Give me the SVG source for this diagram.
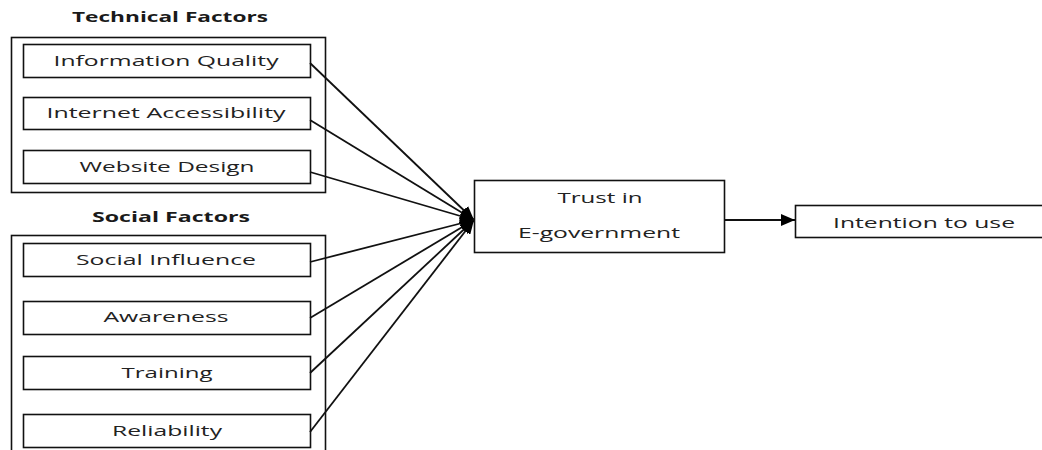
<svg xmlns="http://www.w3.org/2000/svg" width="1042" height="450" viewBox="0 0 1042 450">
<defs>
<style>
.grp{fill:none;stroke:#111;stroke-width:1.6}
.box{fill:#fff;stroke:#111;stroke-width:1.6}
.t{font-family:"Open Sans","Liberation Sans",sans-serif;font-size:15px;fill:#222;text-anchor:middle}
.h{font-family:"Open Sans","Liberation Sans",sans-serif;font-size:14px;font-weight:bold;fill:#1a1a1a;text-anchor:middle}
.c{fill:none;stroke:#111;stroke-width:1.8}
</style>
<marker id="ah" viewBox="0 0 14 12" refX="14" refY="6" markerWidth="14" markerHeight="12" markerUnits="userSpaceOnUse" orient="auto">
<path d="M0,0 L14,6 L0,12 Z" fill="#000"/>
</marker>
</defs>
<rect width="1042" height="450" fill="#fff"/>
<g id="technical-factors">
<text class="h" x="170" y="22" textLength="196" lengthAdjust="spacingAndGlyphs">Technical Factors</text>
<rect class="grp" x="11.5" y="37.5" width="314" height="155"/>
</g>
<g id="information-quality">
<rect class="box" x="23.5" y="44.5" width="287" height="33"/>
<text class="t" x="166" y="66" textLength="225" lengthAdjust="spacingAndGlyphs">Information Quality</text>
</g>
<g id="internet-accessibility">
<rect class="box" x="23.5" y="97.5" width="287" height="32"/>
<text class="t" x="166" y="118" textLength="239" lengthAdjust="spacingAndGlyphs">Internet Accessibility</text>
</g>
<g id="website-design">
<rect class="box" x="23.5" y="150.5" width="287" height="33"/>
<text class="t" x="167" y="172" textLength="175" lengthAdjust="spacingAndGlyphs">Website Design</text>
</g>
<g id="social-factors">
<text class="h" x="171" y="222" textLength="158" lengthAdjust="spacingAndGlyphs">Social Factors</text>
<rect class="grp" x="11.5" y="235.5" width="314" height="230"/>
</g>
<g id="social-influence">
<rect class="box" x="23.5" y="243.5" width="287" height="33"/>
<text class="t" x="166" y="265" textLength="180" lengthAdjust="spacingAndGlyphs">Social Influence</text>
</g>
<g id="awareness">
<rect class="box" x="23.5" y="301.5" width="287" height="33"/>
<text class="t" x="166" y="322" textLength="125" lengthAdjust="spacingAndGlyphs">Awareness</text>
</g>
<g id="training">
<rect class="box" x="23.5" y="356.5" width="287" height="33"/>
<text class="t" x="167" y="378" textLength="91" lengthAdjust="spacingAndGlyphs">Training</text>
</g>
<g id="reliability">
<rect class="box" x="23.5" y="414.5" width="287" height="33"/>
<text class="t" x="167" y="436" textLength="110" lengthAdjust="spacingAndGlyphs">Reliability</text>
</g>
<g id="trust">
<rect class="box" x="474.5" y="180.5" width="250" height="72"/>
<text class="t" x="600" y="203" textLength="85" lengthAdjust="spacingAndGlyphs">Trust in</text>
<text class="t" x="599" y="238" textLength="162" lengthAdjust="spacingAndGlyphs">E-government</text>
</g>
<g id="intention">
<rect class="box" x="795.5" y="205.5" width="248" height="32"/>
<text class="t" x="924" y="228" textLength="182" lengthAdjust="spacingAndGlyphs">Intention to use</text>
</g>
<g id="connectors">
<line class="c" x1="310" y1="63" x2="474" y2="220" marker-end="url(#ah)"/>
<line class="c" x1="310" y1="120" x2="474" y2="220" marker-end="url(#ah)"/>
<line class="c" x1="310" y1="172" x2="474" y2="220" marker-end="url(#ah)"/>
<line class="c" x1="310" y1="262" x2="474" y2="220" marker-end="url(#ah)"/>
<line class="c" x1="310" y1="318" x2="474" y2="220" marker-end="url(#ah)"/>
<line class="c" x1="310" y1="373" x2="474" y2="220" marker-end="url(#ah)"/>
<line class="c" x1="310" y1="432" x2="474" y2="220" marker-end="url(#ah)"/>
<line class="c" x1="725" y1="220" x2="795" y2="220" marker-end="url(#ah)"/>
</g>
</svg>
